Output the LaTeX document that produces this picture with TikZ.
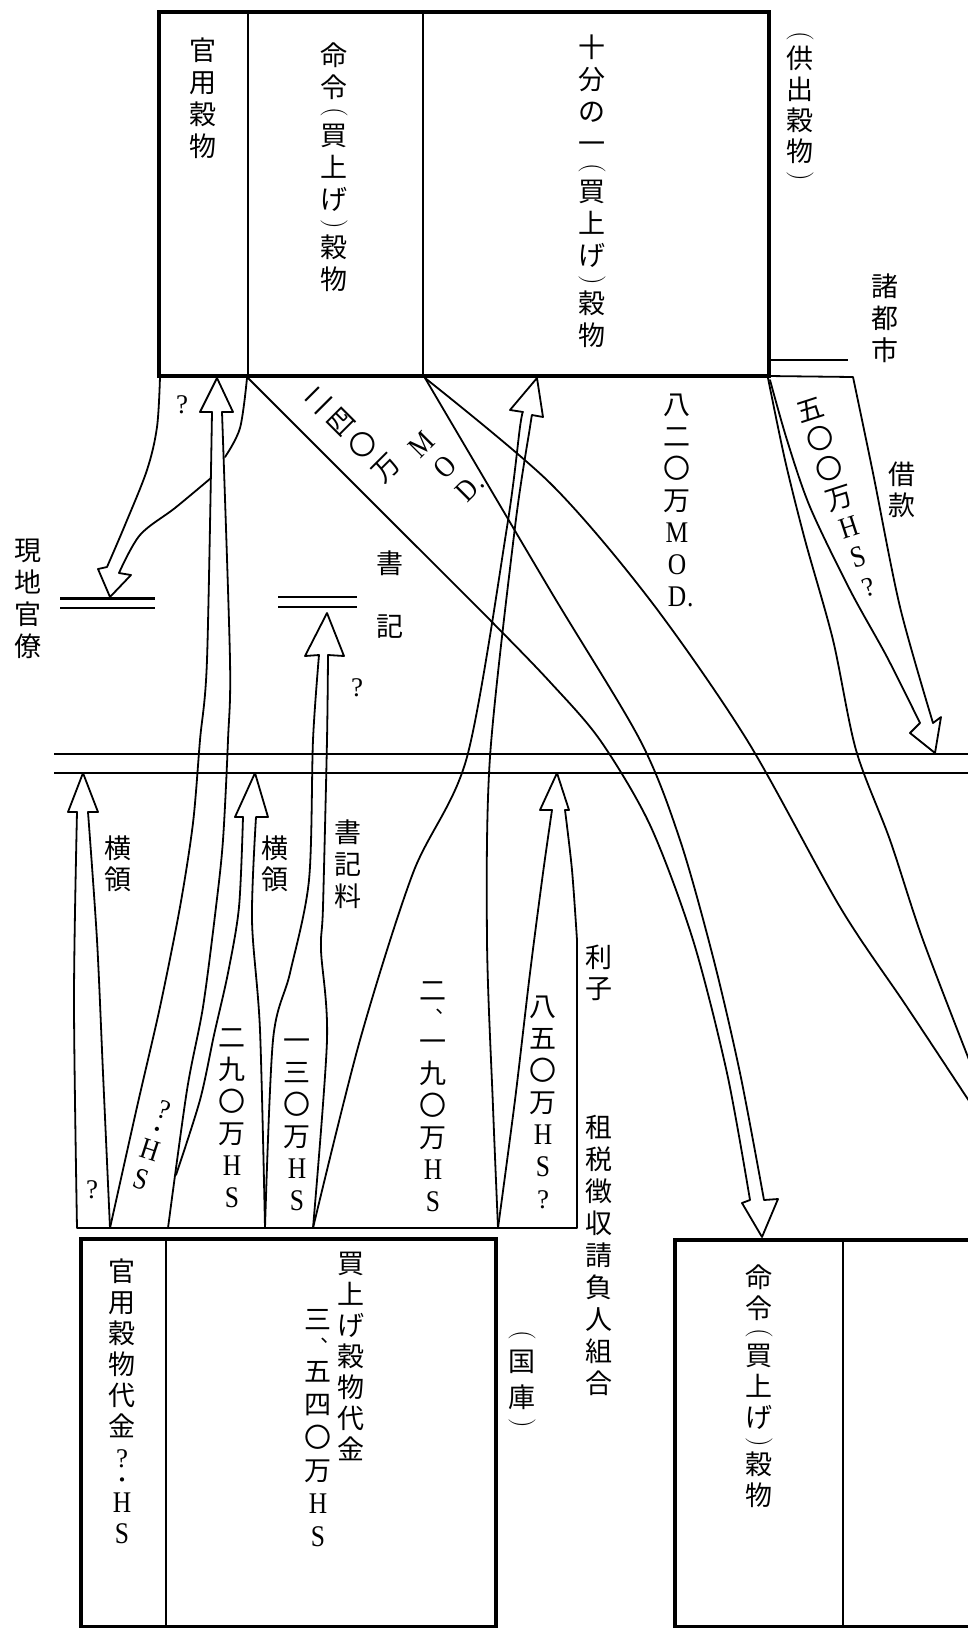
\documentclass[tikz,border=0pt]{standalone}
\usepackage{fontspec}
\newfontfamily\cjk{Noto Sans CJK JP}
\newfontfamily\lat{Liberation Serif}
\makeatletter
\newdimen\vp \vp=32pt
\newcommand\jz{\cjk\fontsize{27}{27}\selectfont}
\newcommand\jc[1]{\hbox to 30pt{\hss\vrule width0pt height .75\vp depth .25\vp\relax#1\hss}}
\newcommand\pL{\hbox to 30pt{\hss\vrule width0pt height 14pt depth 2pt\relax\raisebox{12pt}{\rotatebox{-90}{\rmfamily\fontsize{27}{27}\selectfont(}}\hss}}
\newcommand\pR{\hbox to 30pt{\hss\vrule width0pt height 14pt depth 2pt\relax\raisebox{12pt}{\rotatebox{-90}{\rmfamily\fontsize{27}{27}\selectfont)}}\hss}}
\newcommand\lt[1]{\jc{\lat\fontsize{30}{30}\selectfont\scalebox{0.85}[1]{#1}}}
\newcommand\xH{\lt{H}}
\newcommand\xS{\lt{S}}
\newcommand\xM{\lt{M}}
\newcommand\xO{\lt{O}}
\newcommand\xD{\lt{D\rlap{\kern1pt.}}}
\newcommand\xq{\jc{\lat\fontsize{27}{27}\selectfont ?}}
% small vertical comma and middle dot slots
\newcommand\xcm{\hbox to 30pt{\hss\vrule width0pt height 16pt depth 2.5pt\relax{\fontsize{20}{20}\selectfont ︑}\hss}}
\newcommand\xmd{\hbox to 30pt{\hss\vrule width0pt height 12pt depth 2pt\relax{\fontsize{20}{20}\selectfont ・}\hss}}
\newcommand\VT[1]{\vbox{\offinterlineskip\@tfor\vt@c:=#1\do{\vt@one}}}
\newcommand\vt@one{\expandafter\ifcat\expandafter\noexpand\vt@c\relax\vt@c\else\jc{\vt@c}\fi}
\makeatother
\tikzset{
  vt/.style={inner sep=0pt, font=\jz},
  qm/.style={inner sep=0pt, font=\lat\fontsize{27}{27}\selectfont},
  ln/.style={line width=1.8pt, line join=round, line cap=round},
  box/.style={draw, line width=4pt, inner sep=0pt, outer sep=0pt},
  div/.style={line width=1.5pt},
  dl/.style={line width=1.4pt},
}
\begin{document}
\begin{tikzpicture}[x=1pt,y=-1pt]
\useasboundingbox (0,0) rectangle (968,1628);
\fill[white] (0,0) rectangle (968,1628);
\clip (0,0) rectangle (968,1628);

% boxes
\node[box, minimum width=610pt, minimum height=364pt, anchor=north west] (top) at (159,12) {};
\draw[div] (248,12) -- (248,376);
\draw[div] (423,12) -- (423,376);
\node[box, minimum width=415pt, minimum height=388pt, anchor=north west] (ll) at (81,1239) {};
\draw[div] (166,1239) -- (166,1628);
\node[box, minimum width=340pt, minimum height=387pt, anchor=north west] (lr) at (675,1240) {};
\draw[div] (843,1240) -- (843,1628);

% horizontal lines
\draw[dl] (54,754) -- (968,754);
\draw[dl] (54,773) -- (968,773);
\draw[line width=3pt] (60,598) -- (155,598);
\draw[line width=2pt] (60,608) -- (155,608);
\draw[line width=2.5pt] (278,597) -- (357,597);
\draw[line width=2.5pt] (278,607) -- (357,607);
\draw[line width=2.5pt] (77,1228) -- (577,1228);
\draw[line width=2pt] (769,360) -- (848,360);

% W1 kanyo -> genchi
\draw[ln] plot[smooth,tension=.55] coordinates {(160,377) (157,427) (147,470) (125,525) (107,567)} -- (98,569) -- (110,597) -- (131,575) -- plot[smooth,tension=.55] coordinates {(119,573) (140,535) (175,508) (211,478)};
\draw[ln] plot[smooth,tension=.55] coordinates {(225,457) (240,428) (247,378)};

% W2 meirei -> lower right box
\draw[ln] plot[smooth,tension=.5] coordinates {(248,378) (397,527) (493,623) (550,682) (600,740) (650,825) (693,940) (727,1073) (750,1200)} -- (742,1203) -- (762,1237) -- (778,1199) -- plot[smooth,tension=.5] coordinates {(764,1200) (740,1073) (713,957) (680,840) (640,740) (550,590) (425,378)};

% W3 jubun -> right edge
\draw[ln] plot[smooth,tension=.5] coordinates {(425,378) (550,483) (650,600) (747,740) (840,907) (907,1007) (975,1110)};
\draw[ln] plot[smooth,tension=.5] coordinates {(768,378) (785,460) (805,540) (833,640) (856,750) (890,840) (923,940) (975,1075)};

% W4 loan
\draw[ln] (768,376) -- (853,377) -- plot[smooth,tension=.5] coordinates {(853,377) (873,473) (900,607) (933,723)} -- (941,717) -- (935,753) -- (910,733) -- plot[smooth,tension=.5] coordinates {(920,723) (887,657) (850,590) (810,507) (787,440) (770,380)};

% U1
\draw[ln] plot[smooth,tension=.5] coordinates {(77,1228) (74,1000) (77,812)} -- (68,812) -- (83,773) -- (98,812) -- plot[smooth,tension=.5] coordinates {(88,812) (97,940) (103,1073) (110,1228)};
% U2
\draw[ln] plot[smooth,tension=.5] coordinates {(110,1228) (137,1107) (160,1007) (180,907) (193,823) (200,740) (207,660) (212,412)} -- (200,412) -- (217,378) -- (233,412) -- plot[smooth,tension=.5] coordinates {(222,412) (230,660) (228,740) (223,840) (216,907) (203,1007) (187,1090) (168,1228)};
% U3
\draw[ln] plot[smooth,tension=.5] coordinates {(176,1175) (200,1100) (214,1035) (228,973) (239,907) (243,817)} -- (235,817) -- (255,773) -- (268,817) -- plot[smooth,tension=.5] coordinates {(256,817) (252,920) (260,1030) (265,1228)};
% U4
\draw[ln] plot[smooth,tension=.5] coordinates {(265,1228) (273,1040) (290,973) (309,880) (313,740) (319,655)} -- (305,656) -- (327,613) -- (344,656) -- plot[smooth,tension=.5] coordinates {(328,655) (327,740) (323,907) (321,950) (327,1040) (313,1228)};
% U5
\draw[ln] plot[smooth,tension=.5] coordinates {(313,1228) (360,1040) (413,873) (467,757) (507,527) (520,427) (523,412)} -- (510,410) -- (537,378) -- (543,417) -- plot[smooth,tension=.5] coordinates {(532,415) (530,427) (515,527) (490,757) (487,940) (493,1107) (498,1228)};
% U6
\draw[ln] plot[smooth,tension=.5] coordinates {(498,1228) (515,1100) (530,973) (543,873) (552,810)} -- (540,810) -- (557,773) -- (569,810) -- plot[smooth,tension=.5] coordinates {(565,810) (572,870) (577,940)} -- (577,1228);

% texts top
\node[vt] (t1) at (203,100) {\VT{官用穀物}};
\node[vt] (t2) at (334,169) {\VT{命令\pL 買上げ\pR 穀物}};
\node[vt] (t3) at (592,193) {\VT{十分の一\pL 買上げ\pR 穀物}};
\node[vt] (t4) at (800,107) {\vp=31pt\VT{\pL 供出穀物\pR}};
\node[vt] (t5) at (885,320) {\VT{諸都市}};
\node[vt] (t6) at (28,600) {\VT{現地官僚}};
\node[vt] (t7) at (390,563) {書};
\node[vt] (t8) at (390,627) {記};
\node[qm] (q1) at (182,405) {?};
\node[qm] (q2) at (357,688) {?};
\node[qm] (q3) at (92,1190) {?};
\node[vt, rotate=45] (m1) at (394,446) {\vbox{\offinterlineskip\jc{二}\jc{四}\jc{〇}\jc{万}\kern-23pt
  \moveright42pt\xM \moveright42pt\xO \moveright42pt\xD}};
\node[vt] (m3) at (677,502) {\VT{八二〇万\xM\xO\xD}};
\node[vt, rotate=18] (m4) at (840,500) {\vp=31pt\VT{五〇〇万\xH\xS\xq}};
\node[vt] (m5) at (902,492) {\vp=31pt\VT{借款}};
% texts bottom
\node[vt] (b1) at (118,866) {\vp=31pt\VT{横領}};
\node[vt] (b2) at (275,866) {\vp=31pt\VT{横領}};
\node[vt] (b3) at (348,866) {\VT{書記料}};
\node[vt, rotate=-18] (b4) at (152,1146) {\vp=30pt\VT{\xq\xmd\xH\xS}};
\node[vt] (b5) at (232,1119) {\VT{二九〇万\xH\xS}};
\node[vt] (b6) at (297,1122) {\VT{一三〇万\xH\xS}};
\node[vt] (b7) at (433,1098) {\VT{二\xcm 一九〇万\xH\xS}};
\node[vt] (b8) at (543,1104) {\VT{八五〇万\xH\xS\xq}};
\node[vt] (b9) at (599,975) {\vp=31pt\VT{利子}};
\node[vt] (b10) at (599,1257) {\VT{租税徴収請負人組合}};
\node[vt] (b11) at (522,1380) {\vp=36pt\VT{\pL 国庫\pR}};
\node[vt] (b12) at (122,1405) {\vp=31pt\VT{官用穀物代金\xq\xmd\xH\xS}};
\node[vt] (b13) at (351,1359) {\vp=31pt\VT{買上げ穀物代金}};
\node[vt] (b14) at (318,1430) {\vp=33pt\VT{三\xcm 五四〇万\xH\xS}};
\node[vt] (b15) at (759,1389) {\vp=31pt\VT{命令\pL 買上げ\pR 穀物}};
\end{tikzpicture}
\end{document}
